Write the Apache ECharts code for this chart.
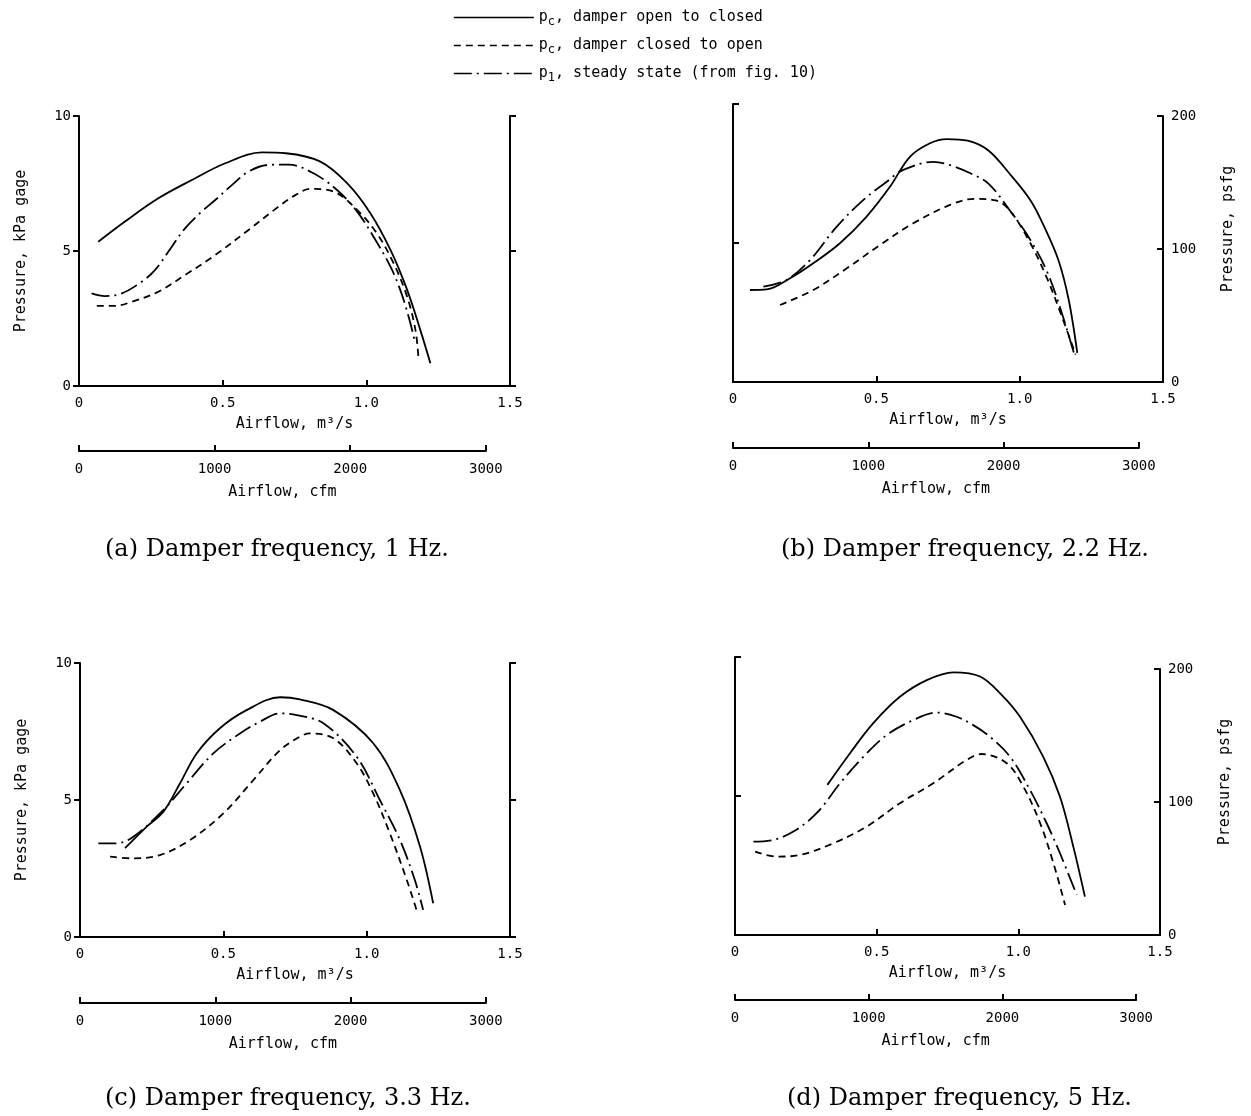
<!DOCTYPE html>
<html><head><meta charset="utf-8">
<script src="https://cdn.jsdelivr.net/npm/echarts@6/dist/echarts.min.js"></script>
<style>html,body{margin:0;padding:0;background:#fff}#c{width:1251px;height:1116px}</style>
</head><body><div id="c"></div>
<script>
// ---- data (x: airflow m^3/s, y: pressure kPa gage) ----
const a_open   = [[0.067,5.34],[0.16,6.09],[0.276,6.95],[0.393,7.63],[0.509,8.25],[0.637,8.65],[0.72,8.62],[0.84,8.31],[0.933,7.51],[1.014,6.4],[1.084,5.04],[1.142,3.56],[1.188,2.07],[1.223,0.84]];
const a_closed = [[0.062,2.97],[0.125,2.97],[0.184,3.12],[0.276,3.49],[0.369,4.11],[0.474,4.85],[0.59,5.78],[0.683,6.55],[0.753,7.07],[0.805,7.3],[0.886,7.2],[0.968,6.52],[1.037,5.65],[1.095,4.54],[1.142,3.31],[1.171,2.07],[1.182,0.96]];
const a_steady = [[0.044,3.43],[0.09,3.33],[0.149,3.43],[0.218,3.86],[0.265,4.3],[0.323,5.16],[0.369,5.84],[0.427,6.46],[0.474,6.89],[0.532,7.44],[0.59,7.94],[0.66,8.19],[0.73,8.2],[0.816,7.88],[0.898,7.26],[0.968,6.46],[1.025,5.53],[1.084,4.42],[1.118,3.56],[1.147,2.57],[1.17,1.6]];

const b_open   = [[0.059,3.31],[0.118,3.33],[0.199,3.73],[0.28,4.27],[0.373,4.99],[0.466,5.95],[0.548,7.03],[0.617,8.1],[0.687,8.59],[0.746,8.74],[0.819,8.68],[0.892,8.32],[0.965,7.49],[1.038,6.53],[1.086,5.58],[1.135,4.39],[1.171,2.96],[1.201,1.05]];
const b_closed = [[0.164,2.77],[0.28,3.31],[0.397,4.09],[0.513,4.93],[0.629,5.71],[0.757,6.37],[0.843,6.59],[0.916,6.53],[0.965,6.18],[1.038,4.98],[1.098,3.67],[1.147,2.36],[1.195,0.99]];
const b_steady = [[0.106,3.43],[0.187,3.67],[0.269,4.39],[0.362,5.59],[0.455,6.55],[0.536,7.2],[0.594,7.63],[0.699,7.92],[0.757,7.8],[0.83,7.5],[0.892,7.13],[0.965,6.18],[1.038,5.1],[1.098,3.91],[1.147,2.48],[1.189,1.05]];

const c_open   = [[0.157,3.24],[0.233,4.03],[0.291,4.57],[0.349,5.61],[0.407,6.7],[0.488,7.62],[0.581,8.28],[0.698,8.75],[0.767,8.67],[0.884,8.28],[1.023,7.07],[1.116,5.36],[1.186,3.3],[1.232,1.23]];
const c_closed = [[0.105,2.93],[0.186,2.87],[0.279,2.99],[0.384,3.54],[0.5,4.51],[0.605,5.73],[0.698,6.82],[0.767,7.31],[0.802,7.43],[0.884,7.25],[0.965,6.34],[1.023,5.24],[1.081,3.78],[1.14,2.08],[1.174,0.99]];
const c_steady = [[0.064,3.42],[0.128,3.42],[0.186,3.66],[0.291,4.64],[0.372,5.61],[0.465,6.7],[0.558,7.43],[0.628,7.86],[0.698,8.16],[0.756,8.1],[0.849,7.8],[0.965,6.58],[1.046,5.0],[1.116,3.54],[1.168,2.08],[1.197,0.99]];

const d_open   = [[0.326,5.4],[0.406,6.54],[0.488,7.62],[0.582,8.57],[0.677,9.17],[0.771,9.45],[0.865,9.3],[0.94,8.65],[1.006,7.85],[1.088,6.41],[1.147,4.97],[1.194,3.18],[1.235,1.38]];
const d_closed = [[0.071,3.0],[0.147,2.82],[0.229,2.88],[0.347,3.3],[0.465,3.9],[0.582,4.74],[0.7,5.46],[0.818,6.3],[0.87,6.51],[0.959,6.18],[1.018,5.33],[1.077,4.02],[1.124,2.58],[1.165,1.08]];
const d_steady = [[0.065,3.36],[0.135,3.42],[0.206,3.72],[0.288,4.38],[0.371,5.46],[0.453,6.41],[0.535,7.19],[0.629,7.73],[0.712,8.0],[0.782,7.85],[0.841,7.55],[0.9,7.13],[0.971,6.41],[1.041,5.22],[1.1,4.02],[1.147,2.94],[1.206,1.44]];

const xTicks   = [0, 0.5, 1.0, 1.5];
const cfmTicks = [0, 1000, 2000, 3000];
const kpaTicks = [0, 5, 10];
const psfTicks = [0, 100, 200];
const seriesNames = ['open', 'closed', 'steady'];
const legendText = {
  open:   'p{sub|c}, damper open to closed',
  closed: 'p{sub|c}, damper closed to open',
  steady: 'p{sub|1}, steady state (from fig. 10)'
};
const panelTitles = ['(a) Damper frequency, 1 Hz.', '(b) Damper frequency, 2.2 Hz.', '(c) Damper frequency, 3.3 Hz.', '(d) Damper frequency, 5 Hz.'];

// ---- conversions ----
const CFM_PER_M3S = 2118.88;

const MONO = '"DejaVu Sans Mono", "Liberation Mono", monospace';
const SERIF = '"DejaVu Serif", "Liberation Serif", serif';
const lineStyles = {
  open:   {type: 'solid', width: 1.8},
  closed: {type: [7, 5], width: 1.8},
  steady: {type: [18, 5, 2, 5], width: 1.8}
};

const panels = [
  {L:79,  W:431, T:116, H:270, cfmY:451,  leftLabels:true,  psf:null, data:[a_open,a_closed,a_steady], tx:100, ty:533},
  {L:733, W:430, T:104, H:278, cfmY:448,  leftLabels:false, psf:{top:116,h:266}, data:[b_open,b_closed,b_steady], tx:776, ty:533},
  {L:80,  W:430, T:663, H:274, cfmY:1003, leftLabels:true,  psf:null, data:[c_open,c_closed,c_steady], tx:100, ty:1082},
  {L:735, W:425, T:657, H:278, cfmY:1000, leftLabels:false, psf:{top:669,h:266}, data:[d_open,d_closed,d_steady], tx:782, ty:1082}
];

const grid = [], xAxis = [], yAxis = [], series = [], title = [];
const axLine = {show: true, onZero: false, lineStyle: {color: '#000', width: 2}};
const tickLine = {width: 2, color: '#000'};
const lbl = {fontFamily: MONO, fontSize: 14, color: '#000'};
const nameStyle = {fontFamily: MONO, fontSize: 15, color: '#000'};

panels.forEach((p, i) => {
  const gMain = grid.length;
  grid.push({left: p.L, top: p.T, width: p.W, height: p.H, containLabel: false});
  const xMain = xAxis.length;
  xAxis.push({type: 'value', gridIndex: gMain, min: 0, max: 1.5, interval: 0.5,
    axisLine: axLine, splitLine: {show: false},
    axisTick: {show: true, inside: true, length: 6, lineStyle: tickLine, customValues: xTicks},
    axisLabel: {...lbl, margin: 10, customValues: xTicks, formatter: v => v === 0 ? '0' : v.toFixed(1)},
    name: 'Airflow, m³/s', nameLocation: 'middle', nameGap: 31, nameTextStyle: nameStyle});
  const yMain = yAxis.length;
  yAxis.push({type: 'value', gridIndex: gMain, position: 'left', min: 0, max: 10, interval: 5,
    axisLine: axLine, splitLine: {show: false},
    axisTick: {show: true, inside: !p.leftLabels, length: 6, lineStyle: tickLine, customValues: kpaTicks},
    axisLabel: {...lbl, show: p.leftLabels, margin: 8, customValues: kpaTicks},
    name: p.leftLabels ? 'Pressure, kPa gage' : '', nameLocation: 'middle', nameRotate: 90, nameGap: 50, nameTextStyle: nameStyle});
  if (!p.psf) {
    yAxis.push({type: 'value', gridIndex: gMain, position: 'right', min: 0, max: 10, interval: 5,
      axisLine: axLine, splitLine: {show: false},
      axisTick: {show: true, inside: false, length: 6, lineStyle: tickLine},
      axisLabel: {show: false}});
  } else {
    const gP = grid.length;
    grid.push({left: p.L, top: p.psf.top, width: p.W, height: p.psf.h});
    xAxis.push({type: 'value', gridIndex: gP, min: 0, max: 1.5, show: false});
    yAxis.push({type: 'value', gridIndex: gP, position: 'right', min: 0, max: 200, interval: 100,
      axisLine: axLine, splitLine: {show: false},
      axisTick: {show: true, inside: true, length: 6, lineStyle: tickLine, customValues: psfTicks},
      axisLabel: {...lbl, margin: 8, customValues: psfTicks},
      name: 'Pressure, psfg', nameLocation: 'middle', nameRotate: 90, nameGap: 58,
      nameTextStyle: {...nameStyle, padding: [0, 0, 0, 40]}});
  }
  const gC = grid.length;
  const cfmW = p.W * (cfmTicks[cfmTicks.length - 1] / CFM_PER_M3S) / 1.5;
  grid.push({left: p.L, top: p.cfmY - 10, width: cfmW, height: 10});
  xAxis.push({type: 'value', gridIndex: gC, min: 0, max: 3000, interval: 1000,
    axisLine: axLine, splitLine: {show: false},
    axisTick: {show: true, inside: true, length: 6, lineStyle: tickLine, customValues: cfmTicks},
    axisLabel: {...lbl, margin: 11, customValues: cfmTicks, formatter: v => String(v)},
    name: 'Airflow, cfm', nameLocation: 'middle', nameGap: 34, nameTextStyle: nameStyle});
  yAxis.push({type: 'value', gridIndex: gC, show: false, min: 0, max: 1});

  seriesNames.forEach((n, k) => {
    series.push({type: 'line', name: n, xAxisIndex: xMain, yAxisIndex: yMain,
      data: p.data[k], smooth: 0.35, symbol: 'none', silent: true,
      lineStyle: {color: '#000', ...lineStyles[n]}, itemStyle: {color: '#000'}});
  });

  title.push({text: panelTitles[i], left: p.tx, top: p.ty,
    textStyle: {fontFamily: SERIF, fontSize: 24, fontWeight: 'normal', color: '#000'}});
});

const chart = echarts.init(document.getElementById('c'), null, {renderer: 'canvas'});
chart.setOption({
  animation: false,
  backgroundColor: '#fff',
  title,
  legend: {
    data: seriesNames, orient: 'vertical', left: 448, top: 5,
    itemWidth: 80, itemHeight: 14, itemGap: 10, selectedMode: false,
    itemStyle: {opacity: 0, borderWidth: 0},
    lineStyle: {width: 1.6},
    formatter: n => legendText[n],
    textStyle: {fontFamily: MONO, fontSize: 15, color: '#000',
      rich: {sub: {fontFamily: MONO, fontSize: 12, color: '#000', padding: [9, 0, 0, 0]}}}
  },
  grid, xAxis, yAxis, series
});
</script></body></html>
